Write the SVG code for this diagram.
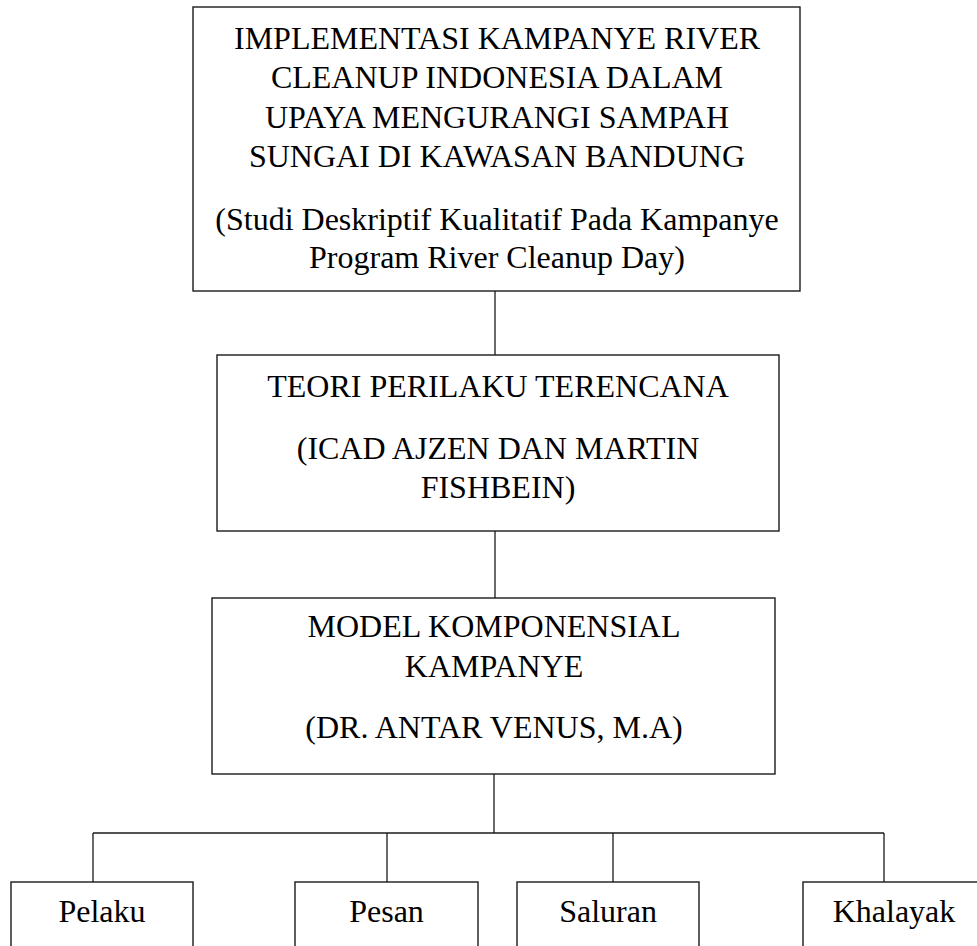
<svg xmlns="http://www.w3.org/2000/svg" width="977" height="946" viewBox="0 0 977 946">
<style>
.box{fill:#fff;stroke:#1a1a1a;stroke-width:1.4}
.ln{fill:none;stroke:#1a1a1a;stroke-width:1.3}
text{font-family:"Liberation Serif","Times New Roman",serif;font-size:32px;fill:#000;text-anchor:middle}
</style>
<rect width="977" height="946" fill="#fff"/>
<g id="connectors">
<line class="ln" x1="495" y1="291" x2="495" y2="355"/>
<line class="ln" x1="495" y1="531" x2="495" y2="598"/>
<line class="ln" x1="494" y1="774" x2="494" y2="833"/>
<line class="ln" x1="93" y1="833" x2="884" y2="833"/>
<line class="ln" x1="93" y1="833" x2="93" y2="882"/>
<line class="ln" x1="387" y1="833" x2="387" y2="882"/>
<line class="ln" x1="613" y1="833" x2="613" y2="882"/>
<line class="ln" x1="884" y1="833" x2="884" y2="882"/>
</g>
<g id="node-judul">
<rect class="box" x="193" y="7" width="607" height="284"/>
<text x="497" y="49">IMPLEMENTASI KAMPANYE RIVER</text>
<text x="497" y="88">CLEANUP INDONESIA DALAM</text>
<text x="497" y="128">UPAYA MENGURANGI SAMPAH</text>
<text x="497" y="167">SUNGAI DI KAWASAN BANDUNG</text>
<text x="497" y="230">(Studi Deskriptif Kualitatif Pada Kampanye</text>
<text x="497" y="268">Program River Cleanup Day)</text>
</g>
<g id="node-teori">
<rect class="box" x="217" y="355" width="562" height="176"/>
<text x="498" y="397">TEORI PERILAKU TERENCANA</text>
<text x="498" y="459">(ICAD AJZEN DAN MARTIN</text>
<text x="498" y="498">FISHBEIN)</text>
</g>
<g id="node-model">
<rect class="box" x="212" y="598" width="563" height="176"/>
<text x="494" y="637">MODEL KOMPONENSIAL</text>
<text x="494" y="677">KAMPANYE</text>
<text x="494" y="738">(DR. ANTAR VENUS, M.A)</text>
</g>
<g id="node-pelaku">
<rect class="box" x="11" y="882" width="182" height="80"/>
<text x="102" y="922">Pelaku</text>
</g>
<g id="node-pesan">
<rect class="box" x="295" y="882" width="183" height="80"/>
<text x="386.5" y="922">Pesan</text>
</g>
<g id="node-saluran">
<rect class="box" x="517" y="882" width="182" height="80"/>
<text x="608" y="922">Saluran</text>
</g>
<g id="node-khalayak">
<rect class="box" x="803" y="882" width="182" height="80"/>
<text x="894" y="922">Khalayak</text>
</g>
</svg>
